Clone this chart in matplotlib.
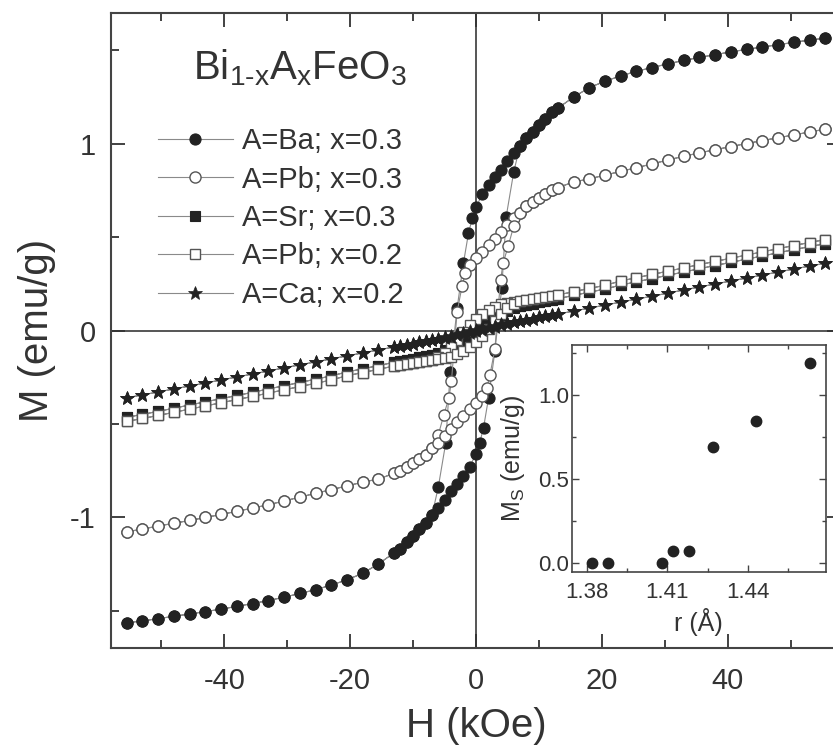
import matplotlib
matplotlib.use("Agg")
import matplotlib.pyplot as plt
from matplotlib.ticker import MultipleLocator, FixedLocator, FormatStrFormatter

plt.rcParams['font.family'] = ['Liberation Sans', 'DejaVu Sans']
plt.rcParams['mathtext.fontset'] = 'custom'
plt.rcParams['mathtext.rm'] = 'Liberation Sans'
plt.rcParams['mathtext.it'] = 'Liberation Sans:italic'
plt.rcParams['axes.unicode_minus'] = False

# ---------------- data: M(H) loops, H in kOe, M in emu/g ----------------
# A=Ba; x=0.3  (descending branch, then ascending branch)
ba_h_down = [55.5, 53, 50.5, 48, 45.5, 43, 40.5, 38, 35.5, 33, 30.5, 28, 25.5, 23, 20.5, 18, 15.5, 13,
             12, 11, 10, 9, 8, 7, 6, 5, 4, 3, 2, 1, 0, -0.6, -1.2, -2, -3, -4.1, -4.8, -6,
             -7, -8, -9, -10, -11, -12, -13, -15.5, -18, -20.5, -23, -25.5, -28, -30.5, -33, -35.5,
             -38, -40.5, -43, -45.5, -48, -50.5, -53, -55.5]
ba_m_down = [1.565, 1.555, 1.543, 1.530, 1.518, 1.505, 1.492, 1.477, 1.462, 1.446, 1.428, 1.408, 1.388,
             1.363, 1.335, 1.300, 1.250, 1.190, 1.170, 1.135, 1.100, 1.065, 1.030, 0.990,
             0.950, 0.905, 0.860, 0.820, 0.780, 0.730, 0.660,
             0.600, 0.520, 0.360, 0.120, -0.220, -0.600, -0.840,
             -0.990, -1.030, -1.065, -1.100, -1.135, -1.170, -1.190,
             -1.250, -1.300, -1.335, -1.363, -1.388, -1.408, -1.428, -1.446, -1.462, -1.477, -1.492,
             -1.505, -1.518, -1.530, -1.543, -1.555, -1.565]
ba_h_up = [-55.5, -53, -50.5, -48, -45.5, -43, -40.5, -38, -35.5, -33, -30.5, -28, -25.5, -23, -20.5,
           -18, -15.5, -13, -12, -11, -10, -9, -8, -7, -6, -5, -4, -3, -2, -1, 0, 0.6, 1.2, 2, 3, 4.1,
           4.8, 6, 7, 8, 9, 10, 11, 12, 13, 15.5, 18, 20.5, 23, 25.5, 28, 30.5, 33, 35.5, 38, 40.5,
           43, 45.5, 48, 50.5, 53, 55.5]
ba_m_up = [-1.565, -1.555, -1.543, -1.530, -1.518, -1.505, -1.492, -1.477, -1.462, -1.446, -1.428,
           -1.408, -1.388, -1.363, -1.335, -1.300, -1.250, -1.190, -1.170, -1.135, -1.100, -1.065,
           -1.030, -0.990, -0.950, -0.905, -0.860, -0.820, -0.780, -0.730, -0.660, -0.600, -0.520,
           -0.360, -0.110, 0.230, 0.610, 0.850, 0.990, 1.030, 1.065, 1.100, 1.135, 1.170, 1.190,
           1.250, 1.300, 1.335, 1.363, 1.388, 1.408, 1.428, 1.446, 1.462, 1.477, 1.492, 1.505,
           1.518, 1.530, 1.543, 1.555, 1.565]

# A=Pb; x=0.3
pb3_h_down = [55.5, 53, 50.5, 48, 45.5, 43, 40.5, 38, 35.5, 33, 30.5, 28, 25.5, 23, 20.5, 18, 15.5, 13,
              12, 11, 10, 9, 8, 7, 6, 5, 4, 3, 2, 1, 0, -1, -1.7, -2.2, -3, -3.9, -4.3, -5.1, -6,
              -7, -8, -9, -10, -11, -12, -13, -15.5, -18, -20.5, -23, -25.5, -28, -30.5, -33, -35.5,
              -38, -40.5, -43, -45.5, -48, -50.5, -53, -55.5]
pb3_m_down = [1.078, 1.063, 1.047, 1.032, 1.017, 1.001, 0.985, 0.968, 0.951, 0.933, 0.913, 0.892, 0.872,
              0.852, 0.832, 0.812, 0.795, 0.765, 0.750, 0.733, 0.712, 0.690, 0.665, 0.630,
              0.600, 0.565, 0.530, 0.490, 0.460, 0.420, 0.390,
              0.350, 0.310, 0.240, 0.100, -0.270, -0.360, -0.450, -0.560,
              -0.630, -0.665, -0.690, -0.712, -0.733, -0.750, -0.765,
              -0.795, -0.812, -0.832, -0.852, -0.872, -0.892, -0.913, -0.933, -0.951, -0.968, -0.985,
              -1.001, -1.017, -1.032, -1.047, -1.063, -1.078]
pb3_h_up = [-55.5, -53, -50.5, -48, -45.5, -43, -40.5, -38, -35.5, -33, -30.5, -28, -25.5, -23, -20.5,
            -18, -15.5, -13, -12, -11, -10, -9, -8, -7, -6, -5, -4, -3, -2, -1, 0, 1, 1.7, 2.2, 3,
            3.9, 4.3, 5.1, 6, 7, 8, 9, 10, 11, 12, 13, 15.5, 18, 20.5, 23, 25.5, 28, 30.5, 33, 35.5,
            38, 40.5, 43, 45.5, 48, 50.5, 53, 55.5]
pb3_m_up = [-1.078, -1.063, -1.047, -1.032, -1.017, -1.001, -0.985, -0.968, -0.951, -0.933, -0.913,
            -0.892, -0.872, -0.852, -0.832, -0.812, -0.795, -0.765, -0.750, -0.733, -0.712, -0.690,
            -0.665, -0.630, -0.600, -0.565, -0.530, -0.490, -0.460, -0.420, -0.390, -0.350, -0.310,
            -0.240, -0.100, 0.270, 0.360, 0.450, 0.560, 0.630, 0.665, 0.690, 0.712, 0.733, 0.750,
            0.765, 0.795, 0.812, 0.832, 0.852, 0.872, 0.892, 0.913, 0.933, 0.951, 0.968, 0.985,
            1.001, 1.017, 1.032, 1.047, 1.063, 1.078]

# common field list for the three weak samples
h_down = [55.5, 53, 50.5, 48, 45.5, 43, 40.5, 38, 35.5, 33, 30.5, 28, 25.5, 23, 20.5, 18, 15.5, 13,
          12, 11, 10, 9, 8, 7, 6, 5, 4, 3, 2, 1, 0, -1, -2, -3, -4, -5, -6,
          -7, -8, -9, -10, -11, -12, -13, -15.5, -18, -20.5, -23, -25.5, -28, -30.5, -33, -35.5,
          -38, -40.5, -43, -45.5, -48, -50.5, -53, -55.5]
h_up = [-55.5, -53, -50.5, -48, -45.5, -43, -40.5, -38, -35.5, -33, -30.5, -28, -25.5, -23, -20.5,
        -18, -15.5, -13, -12, -11, -10, -9, -8, -7, -6, -5, -4, -3, -2, -1, 0, 1, 2, 3, 4, 5, 6,
        7, 8, 9, 10, 11, 12, 13, 15.5, 18, 20.5, 23, 25.5, 28, 30.5, 33, 35.5, 38, 40.5, 43, 45.5,
        48, 50.5, 53, 55.5]

# A=Sr; x=0.3
sr_m_down = [0.465, 0.449, 0.433, 0.416, 0.399, 0.382, 0.365, 0.348, 0.331, 0.313, 0.296, 0.278, 0.261,
             0.243, 0.222, 0.205, 0.188, 0.170, 0.163, 0.156, 0.150, 0.144, 0.138, 0.131,
             0.124, 0.116, 0.107, 0.096, 0.082, 0.062, 0.038, 0.010, -0.025, -0.060, -0.085, -0.105,
             -0.118, -0.131, -0.138, -0.144, -0.150, -0.156, -0.163, -0.170,
             -0.188, -0.205, -0.222, -0.243, -0.261, -0.278, -0.296, -0.313, -0.331, -0.348, -0.365,
             -0.382, -0.399, -0.416, -0.433, -0.449, -0.465]
sr_m_up = [-0.465, -0.449, -0.433, -0.416, -0.399, -0.382, -0.365, -0.348, -0.331, -0.313, -0.296,
           -0.278, -0.261, -0.243, -0.222, -0.205, -0.188, -0.170, -0.163, -0.156, -0.150, -0.144,
           -0.138, -0.131, -0.124, -0.116, -0.107, -0.096, -0.082, -0.062, -0.038, -0.010, 0.025,
           0.060, 0.085, 0.105, 0.118, 0.131, 0.138, 0.144, 0.150, 0.156, 0.163, 0.170,
           0.188, 0.205, 0.222, 0.243, 0.261, 0.278, 0.296, 0.313, 0.331, 0.348, 0.365,
           0.382, 0.399, 0.416, 0.433, 0.449, 0.465]

# A=Pb; x=0.2
pb2_m_down = [0.487, 0.471, 0.455, 0.438, 0.421, 0.404, 0.387, 0.370, 0.353, 0.335, 0.318, 0.300, 0.283,
              0.265, 0.242, 0.225, 0.208, 0.190, 0.184, 0.178, 0.173, 0.168, 0.164, 0.160,
              0.154, 0.148, 0.140, 0.128, 0.112, 0.090, 0.062, 0.030, -0.010, -0.050, -0.090, -0.120,
              -0.140, -0.160, -0.164, -0.168, -0.173, -0.178, -0.184, -0.190,
              -0.208, -0.225, -0.242, -0.265, -0.283, -0.300, -0.318, -0.335, -0.353, -0.370, -0.387,
              -0.404, -0.421, -0.438, -0.455, -0.471, -0.487]
pb2_m_up = [-0.487, -0.471, -0.455, -0.438, -0.421, -0.404, -0.387, -0.370, -0.353, -0.335, -0.318,
            -0.300, -0.283, -0.265, -0.242, -0.225, -0.208, -0.190, -0.184, -0.178, -0.173, -0.168,
            -0.164, -0.160, -0.154, -0.148, -0.140, -0.128, -0.112, -0.090, -0.062, -0.030, 0.010,
            0.050, 0.090, 0.120, 0.140, 0.160, 0.164, 0.168, 0.173, 0.178, 0.184, 0.190,
            0.208, 0.225, 0.242, 0.265, 0.283, 0.300, 0.318, 0.335, 0.353, 0.370, 0.387,
            0.404, 0.421, 0.438, 0.455, 0.471, 0.487]

# A=Ca; x=0.2
ca_m_down = [0.360, 0.345, 0.329, 0.313, 0.297, 0.281, 0.265, 0.249, 0.233, 0.217, 0.200, 0.184, 0.168,
             0.152, 0.136, 0.120, 0.104, 0.088, 0.082, 0.076, 0.070, 0.064, 0.058, 0.052,
             0.046, 0.040, 0.033, 0.026, 0.019, 0.012, 0.005, -0.003, -0.011, -0.019, -0.027, -0.035,
             -0.043, -0.052, -0.058, -0.064, -0.070, -0.076, -0.082, -0.088,
             -0.104, -0.120, -0.136, -0.152, -0.168, -0.184, -0.200, -0.217, -0.233, -0.249, -0.265,
             -0.281, -0.297, -0.313, -0.329, -0.345, -0.360]
ca_m_up = [-0.360, -0.345, -0.329, -0.313, -0.297, -0.281, -0.265, -0.249, -0.233, -0.217, -0.200,
           -0.184, -0.168, -0.152, -0.136, -0.120, -0.104, -0.088, -0.082, -0.076, -0.070, -0.064,
           -0.058, -0.052, -0.046, -0.040, -0.033, -0.026, -0.019, -0.012, -0.005, 0.003, 0.011,
           0.019, 0.027, 0.035, 0.043, 0.052, 0.058, 0.064, 0.070, 0.076, 0.082, 0.088,
           0.104, 0.120, 0.136, 0.152, 0.168, 0.184, 0.200, 0.217, 0.233, 0.249, 0.265,
           0.281, 0.297, 0.313, 0.329, 0.345, 0.360]

labels = ['A=Ba; x=0.3', 'A=Pb; x=0.3', 'A=Sr; x=0.3', 'A=Pb; x=0.2', 'A=Ca; x=0.2']
title_text = r'Bi$_\text{1-x}$A$_\mathregular{x}$FeO$_\mathregular{3}$'

# inset: saturation magnetisation vs average A-site radius
r_vals = [1.382, 1.388, 1.408, 1.412, 1.418, 1.427, 1.443, 1.463]
ms_vals = [0.0, 0.0, 0.0, 0.075, 0.075, 0.69, 0.845, 1.19]

# ---------------- figure ----------------
W, H = 833, 745
fig = plt.figure(figsize=(W / 100, H / 100), dpi=100)
ax = fig.add_axes([111 / W, 1 - 648 / H, 730 / W, 635 / H])

ax.axhline(0, color='#555555', lw=1.4, zorder=1)
ax.axvline(0, color='#555555', lw=1.4, zorder=1)

line_kw = dict(color='#8a8a8a', lw=0.8)
dark = '#222222'
gray_edge = '#555555'
series = [
    (ba_h_down + ba_h_up, ba_m_down + ba_m_up,
     dict(marker='o', ms=8, mfc=dark, mec=dark, mew=0.8)),
    (pb3_h_down + pb3_h_up, pb3_m_down + pb3_m_up,
     dict(marker='o', ms=8, mfc='white', mec=gray_edge, mew=1.0)),
    (h_down + h_up, sr_m_down + sr_m_up,
     dict(marker='s', ms=7, mfc=dark, mec=dark, mew=0.8)),
    (h_down + h_up, pb2_m_down + pb2_m_up,
     dict(marker='s', ms=7, mfc='white', mec=gray_edge, mew=1.0)),
    (h_down + h_up, ca_m_down + ca_m_up,
     dict(marker='*', ms=10, mfc=dark, mec=dark, mew=0.5)),
]
for i, (hx, my, mk) in enumerate(series):
    ax.plot(hx, my, label=labels[i], zorder=3 + i, **line_kw, **mk)

ax.set_xlim(-58, 58)
ax.set_ylim(-1.7, 1.7)
ax.xaxis.set_major_locator(FixedLocator([-40, -20, 0, 20, 40]))
ax.xaxis.set_minor_locator(MultipleLocator(10))
ax.yaxis.set_major_locator(FixedLocator([-1, 0, 1]))
ax.yaxis.set_minor_locator(MultipleLocator(0.5))
ax.tick_params(which='both', direction='in', top=True, right=True, colors='#333333',
               labelcolor='#333333', width=1.3, labelsize=21)
ax.tick_params(which='major', length=10)
ax.tick_params(which='minor', length=6)
ax.tick_params(axis='x', pad=14)
ax.tick_params(axis='y', pad=11)
for s in ax.spines.values():
    s.set_color('#444444')
    s.set_linewidth(1.5)
ax.set_xlabel('H (kOe)', fontsize=29, color='#333333', labelpad=8)
ax.set_ylabel('M (emu/g)', fontsize=29, color='#333333', labelpad=10)

leg = ax.legend(loc='center left', bbox_to_anchor=(158 / W, 1 - 218 / H), bbox_transform=fig.transFigure,
                frameon=False, fontsize=21, handlelength=2.57, handletextpad=0.3, labelspacing=0.36,
                borderpad=0, borderaxespad=0, numpoints=1)
for t in leg.get_texts():
    t.set_color('#333333')
fig.text(300 / W, 1 - 68 / H, title_text, fontsize=29, ha='center', va='center', color='#333333')

# ---------------- inset ----------------
ins = fig.add_axes([571.7 / W, 1 - 572 / H, 254 / W, 227 / H])
ins.set_facecolor('white')
ins.plot(r_vals, ms_vals, 'o', color=dark, ms=7.5, ls='none')
ins.set_xlim(1.3744, 1.4689)
ins.set_ylim(-0.052, 1.297)
ins.xaxis.set_major_locator(FixedLocator([1.38, 1.41, 1.44]))
ins.xaxis.set_minor_locator(MultipleLocator(0.015))
ins.yaxis.set_major_locator(FixedLocator([0.0, 0.5, 1.0]))
ins.yaxis.set_minor_locator(MultipleLocator(0.25))
ins.tick_params(which='both', direction='in', top=True, right=True, colors='#444444',
                labelcolor='#333333', width=1.0, labelsize=16)
ins.tick_params(which='major', length=5)
ins.tick_params(which='minor', length=3)
ins.tick_params(axis='x', pad=7)
ins.tick_params(axis='y', pad=2)
ins.xaxis.set_major_formatter(FormatStrFormatter('%.2f'))
ins.yaxis.set_major_formatter(FormatStrFormatter('%.1f'))
for s in ins.spines.values():
    s.set_color('#444444')
    s.set_linewidth(1.2)
ins.set_xlabel('r (Å)', fontsize=18, color='#333333', labelpad=4)
ins.set_ylabel(r'M$_\mathregular{S}$ (emu/g)', fontsize=18, color='#333333', labelpad=8)

fig.savefig('out.png', dpi=100)
